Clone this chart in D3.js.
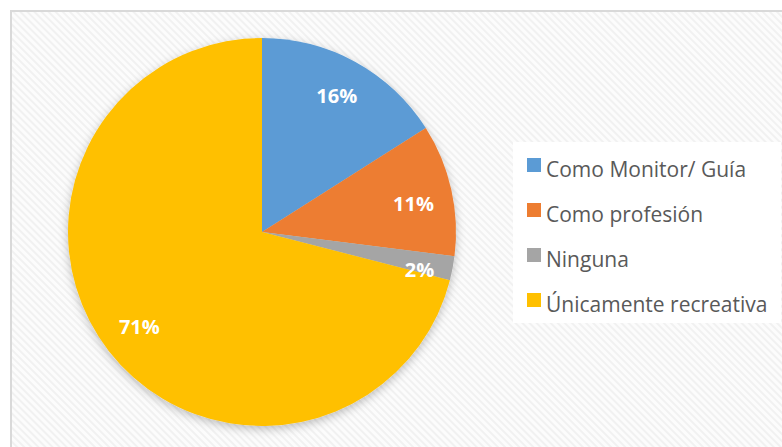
<!DOCTYPE html>
<html>
<head>
<meta charset="utf-8">
<script src="https://cdn.jsdelivr.net/npm/d3@7"></script>
<style>
  body { margin: 0; background: #fff; }
</style>
</head>
<body>
<div id="chart-area"></div>
<script>
let categories = ["Como Monitor/ Guía", "Como profesión", "Ninguna", "Únicamente recreativa"];
let values = [16, 11, 2, 71];
let colors = ["#5B9BD5", "#ED7D31", "#A5A5A5", "#FFC000"];

let W = 782, H = 447;
let cx = 262, cy = 232, radius = 194;

let svg = d3.select("#chart-area")
            .append("svg")
            .attr("width", W)
            .attr("height", H);

let defs = svg.append("defs");

// faint diagonal stripes behind the chart
let pat = defs.append("pattern")
    .attr("id", "stripes")
    .attr("patternUnits", "userSpaceOnUse")
    .attr("width", 5)
    .attr("height", 5)
    .attr("patternTransform", "rotate(-45)");
pat.append("rect").attr("width", 5).attr("height", 5).attr("fill", "#fcfcfc");
pat.append("rect").attr("width", 2).attr("height", 5).attr("fill", "#f1f1f1");

let shadow = defs.append("filter")
    .attr("id", "shadow")
    .attr("x", "-20%").attr("y", "-20%")
    .attr("width", "140%").attr("height", "140%");
shadow.append("feDropShadow")
    .attr("dx", 0).attr("dy", 3)
    .attr("stdDeviation", 5)
    .attr("flood-color", "#000")
    .attr("flood-opacity", 0.25);

// chart frame
svg.append("rect")
    .attr("x", 11).attr("y", 11)
    .attr("width", W).attr("height", H)
    .attr("fill", "url(#stripes)")
    .attr("stroke", "#d9d9d9")
    .attr("stroke-width", 2);

let pie = d3.pie().sort(null).value(function(d){ return d; });
let arcs = pie(values);
let arc = d3.arc().innerRadius(0).outerRadius(radius);
let labelArc = d3.arc().innerRadius(radius * 0.8).outerRadius(radius * 0.8);

let g = svg.append("g")
    .attr("transform", "translate(" + cx + "," + cy + ")");

let slices = g.append("g").attr("filter", "url(#shadow)");
slices.selectAll("path")
    .data(arcs)
    .enter()
    .append("path")
    .attr("d", arc)
    .attr("fill", function(d, i){ return colors[i]; });

g.selectAll("text.label")
    .data(arcs)
    .enter()
    .append("text")
    .attr("class", "label")
    .attr("transform", function(d, i){
        let c = labelArc.centroid(d);
        // small slice label sits a bit further out, as in the original
        if (i == 2) { c = [c[0] + 5, c[1] + 9]; }
        if (i == 1) { c = [c[0], c[1] + 6]; }
        return "translate(" + c[0] + "," + c[1] + ")";
    })
    .attr("dy", "0.36em")
    .attr("text-anchor", "middle")
    .attr("font-family", "'Open Sans', sans-serif")
    .attr("font-weight", "bold")
    .attr("font-size", "20px")
    .attr("fill", "#fff")
    .text(function(d){ return d.data + "%"; });

// legend
let legend = svg.append("g");
legend.append("rect")
    .attr("x", 513).attr("y", 142)
    .attr("width", 268).attr("height", 181)
    .attr("fill", "#fff");

let items = legend.selectAll("g.item")
    .data(categories)
    .enter()
    .append("g")
    .attr("class", "item")
    .attr("transform", function(d, i){ return "translate(527," + (158 + i * 45) + ")"; });

items.append("rect")
    .attr("width", 14).attr("height", 14)
    .attr("fill", function(d, i){ return colors[i]; });

items.append("text")
    .attr("x", 19)
    .attr("y", 19)
    .attr("font-family", "'Open Sans', sans-serif")
    .attr("font-size", "21px")
    .attr("fill", "#595959")
    .text(function(d){ return d; });
</script>
</body>
</html>
